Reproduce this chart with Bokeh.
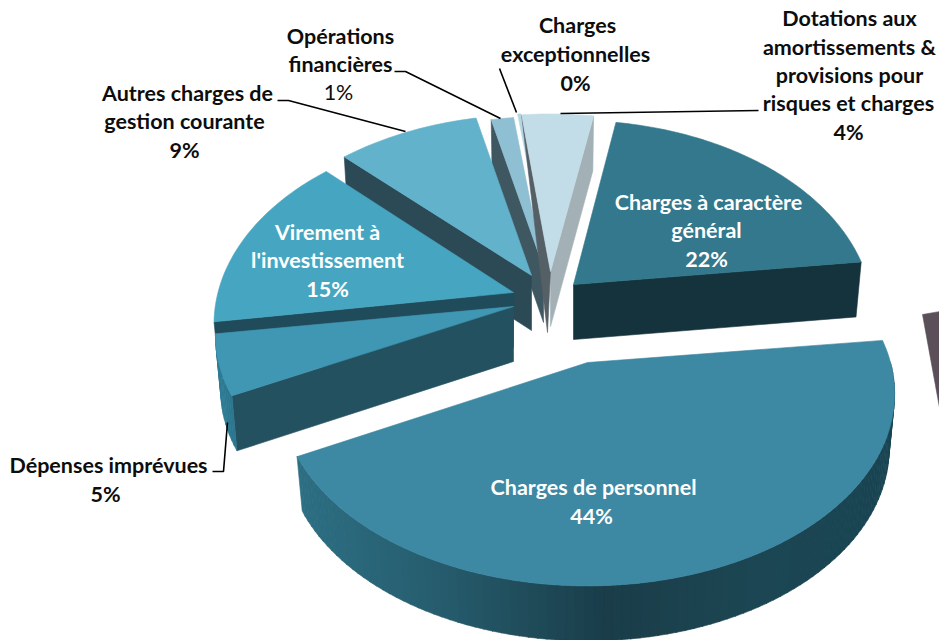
from bokeh.plotting import figure
from bokeh.models import Range1d, ColumnDataSource
from bokeh.core.properties import value
from bokeh.embed import file_html
from bokeh.resources import INLINE
import math

# ---- data ----
categories = ["Charges à caractère général", "Charges de personnel", "Dépenses imprévues",
              "Virement à l'investissement", "Autres charges de gestion courante",
              "Opérations financières", "Charges exceptionnelles",
              "Dotations aux amortissements & provisions pour risques et charges"]
# share of the circle as drawn (the printed labels are rounded by the source)
drawn_shares = [20.4, 44.2, 5.3, 14.9, 9.0, 1.5, 0.2, 4.45]
printed_labels = ["22%", "44%", "5%", "15%", "9%", "1%", "0%", "4%"]

# ---- styles and layout ----
top_colors = ["#33788c", "#3d88a2", "#3f97b3", "#46a6c1", "#63b2cc", "#8fbfd3", "#b4d6e2", "#c3dde8"]
wall_colors = ["#15333c", "#1e4f5f", "#24515f", "#1f4b5b", "#2c4a56", "#3e5761", "#555f66", "#a3b1b6"]
apex_x = [573, 587, 513, 513, 531, 543, 548, 550]
apex_y = [284, 362, 306, 292, 275, 267, 270, 271]
scale_x = [0.985, 1.01, 0.98, 0.985, 0.985, 0.93, 0.96, 1.0]
scale_y = [1.0, 0.98, 0.93, 1.0, 0.98, 0.92, 0.96, 0.96]
radial_wall = ["end", None, "start", "start", "start", "start", None, "end"]
paint_order = [5, 6, 7, 4, 3, 2, 0, 1]
START_ANGLE = 9.6
RX, RY, PERSP = 300.0, 190.8, 0.163
DEPTH, SHRINK = 55.0, 0.982


def rim(i, theta):
    t = math.radians(theta)
    d = 1 + PERSP * math.cos(t)
    return (apex_x[i] + scale_x[i] * RX * math.sin(t) / d,
            apex_y[i] - scale_y[i] * RY * math.cos(t) / d)


def under(i, pt):
    return (apex_x[i] + SHRINK * (pt[0] - apex_x[i]), pt[1] + DEPTH)


def lerp_hex(stops, x):
    for (x0, c0), (x1, c1) in zip(stops, stops[1:]):
        if x <= x1:
            f = max(0.0, (x - x0) / (x1 - x0))
            rgb = [round(int(c0[k:k+2], 16) * (1 - f) + int(c1[k:k+2], 16) * f) for k in (1, 3, 5)]
            return "#%02x%02x%02x" % tuple(rgb)
    return stops[-1][1]


wall_stops = {
    1: [(290, "#2e7085"), (450, "#255b6c"), (610, "#1a3d49"), (760, "#1c4653"), (900, "#194452")],
    2: [(210, "#2e7e98"), (245, "#2a7189")],
}

p = figure(width=939, height=640, x_range=Range1d(0, 939), y_range=Range1d(640, 0),
           output_backend="svg", toolbar_location=None, min_border=0,
           background_fill_color="white", border_fill_color="white")
p.axis.visible = False
p.grid.visible = False
p.outline_line_color = None


def poly(points, color):
    xs = [q[0] for q in points]
    ys = [q[1] for q in points]
    p.patch(xs, ys, fill_color=color, line_color=color, line_width=0.6)


# angular extents from the shares
total = sum(drawn_shares)
starts, ends = [], []
a = START_ANGLE
for s in drawn_shares:
    starts.append(a)
    a += s / total * 360
    ends.append(a)

# decorative sliver at the right edge of the source picture
poly([(922, 314), (945, 310), (945, 440)], "#5b505a")

for i in paint_order:
    t0, t1 = starts[i], ends[i]
    n = max(4, int((t1 - t0) / 1.0))
    # radial wall
    if radial_wall[i]:
        th = t0 if radial_wall[i] == "start" else t1
        r = rim(i, th)
        poly([(apex_x[i], apex_y[i]), r, under(i, r), (apex_x[i], apex_y[i] + DEPTH)], wall_colors[i])
    # thin dark wedge left of the last slice (wall of the 0 % slice)
    if i == 7:
        poly([(apex_x[i], apex_y[i]), rim(i, t0), (apex_x[i] - 3, apex_y[i] + DEPTH + 6)], wall_colors[6])
    # outer wall strips on the front half
    lo, hi = max(t0, 90.0), min(t1, 270.0)
    if hi > lo and i in wall_stops:
        m = max(2, int((hi - lo) / 1.5))
        for k in range(m):
            a0 = lo + (hi - lo) * k / m
            a1 = lo + (hi - lo) * (k + 1) / m + 0.15
            r0, r1 = rim(i, a0), rim(i, a1)
            poly([r0, r1, under(i, r1), under(i, r0)], lerp_hex(wall_stops[i], r0[0]))
    # top face
    pts = [(apex_x[i], apex_y[i])] + [rim(i, t0 + (t1 - t0) * k / n) for k in range(n + 1)]
    poly(pts, top_colors[i])

# ---- leader lines ----
leaders = [
    ([758, 560], [110, 113]),
    ([394, 405, 500], [71, 71, 118]),
    ([277, 288, 405], [100, 100, 131]),
    ([499, 516], [68, 112]),
    ([212, 223, 227], [471, 471, 422]),
]
for lx, ly in leaders:
    p.line(lx, ly, line_color="black", line_width=1.6)

# ---- labels ----
black_lines = [
    ("Opérations", 340, 35), ("financières", 340, 63),
    ("Charges", 577, 24), ("exceptionnelles", 575, 53), (printed_labels[6], 575, 82),
    ("Dotations aux", 849, 17), ("amortissements &", 849, 46), ("provisions pour", 849, 74),
    ("risques et charges", 848, 102), (printed_labels[7], 848, 131),
    ("Autres charges de", 187, 92), ("gestion courante", 184, 120), (printed_labels[4], 184, 149),
    ("Dépenses imprévues", 108, 464), (printed_labels[2], 105, 493),
]
white_lines = [
    ("Charges à caractère", 708, 201), ("général", 706, 229), (printed_labels[0], 706, 258),
    ("Virement à", 327, 231), ("l'investissement", 327, 259), (printed_labels[3], 327, 288),
    ("Charges de personnel", 593, 486), (printed_labels[1], 591, 515),
]
regular_lines = [(printed_labels[5], 338, 91)]

for lines, color, style in [(black_lines, "#0d0d0d", "bold"), (white_lines, "white", "bold"),
                            (regular_lines, "#0d0d0d", "normal")]:
    src = ColumnDataSource(dict(t=[l[0] for l in lines], x=[l[1] for l in lines], y=[l[2] for l in lines]))
    p.text("x", "y", text="t", source=src, text_font=value("Lato"), text_font_size="21.5px",
           text_font_style=style, text_color=color, text_align="center", text_baseline="middle")

open("out.html", "w").write(file_html(p, INLINE))
